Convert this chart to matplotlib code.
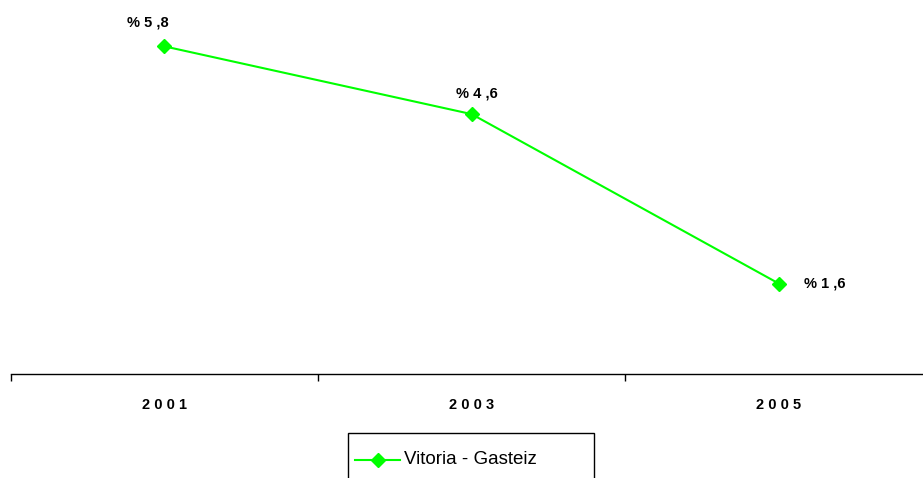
import matplotlib
matplotlib.use("Agg")
import matplotlib.pyplot as plt
from matplotlib.lines import Line2D
from matplotlib.patches import Rectangle

plt.rcParams["font.family"] = ["Liberation Sans", "DejaVu Sans"]

years = ["2001", "2003", "2005"]
values = [5.8, 4.6, 1.6]
labels = ["% 5 ,8", "% 4 ,6", "% 1 ,6"]
series_name = "Vitoria - Gasteiz"

fig = plt.figure(figsize=(9.23, 4.78), dpi=100)
ax = fig.add_axes([10.6 / 923, 1 - 374 / 478, 922 / 923, 374 / 478])
x = [0.5, 1.5, 2.5]
ax.plot(x, values, color="#00FF00", lw=1.5, marker="D", ms=7, mec="#00FF00", mfc="#00FF00", clip_on=False)
ax.set_xlim(0, 3)
ax.set_ylim(0, 6.62)
for s in ["top", "right", "left"]:
    ax.spines[s].set_visible(False)
ax.spines["bottom"].set_color("black")
ax.spines["bottom"].set_linewidth(1)
ax.set_yticks([])
ax.set_xticks([0, 1, 2, 3])
ax.set_xticklabels([])
ax.tick_params(axis="x", direction="out", length=5, width=1, color="black")
ax.set_xticks(x, minor=True)
ax.set_xticklabels([" ".join(y) for y in years], minor=True, fontweight="bold", fontsize=10.5)
ax.tick_params(axis="x", which="minor", length=0, pad=17)

offsets = [(-12, 17), (4, 15), (33, 0)]
for xi, v, lab, off in zip(x, values, labels, offsets):
    ax.annotate(lab, (xi, v), xytext=off, textcoords="offset points", ha="center", va="center",
                fontsize=10.5, fontweight="bold", annotation_clip=False)

# legend box
fig.patches.append(Rectangle((348 / 923, -0.02), (594 - 348) / 923, (0.02 + (478 - 433) / 478),
                             transform=fig.transFigure, fill=False, edgecolor="black", lw=1))
fig.lines.append(Line2D([355 / 923, 377.5 / 923, 400 / 923], [1 - 460 / 478] * 3, transform=fig.transFigure,
                        color="#00FF00", lw=1.5, marker="D", markevery=[1], ms=7))
fig.text(404 / 923, 1 - 460 / 478, series_name, fontsize=13.5, va="center", ha="left")

fig.savefig("out.png", dpi=100)
